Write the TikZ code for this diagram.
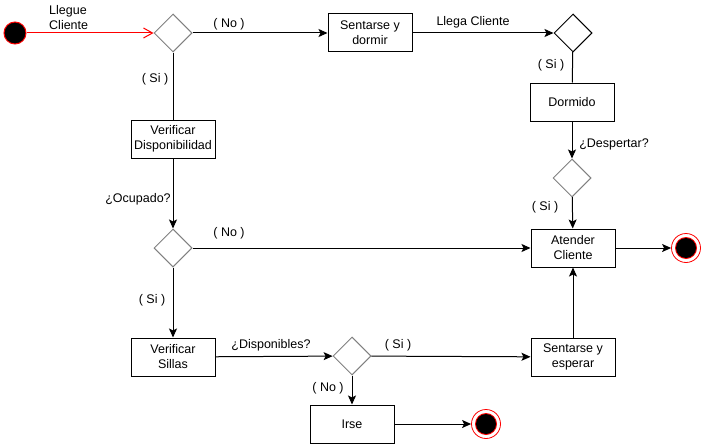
\documentclass[tikz,border=0pt]{standalone}
\usepackage{fontspec}
\setmainfont{Liberation Sans}
\usetikzlibrary{shapes.geometric,arrows.meta}
\begin{document}
\begin{tikzpicture}[x=1pt,y=-1pt,
  font=\fontsize{12.5}{15}\selectfont,
  box/.style={draw, line width=1pt, minimum width=84pt, minimum height=38pt,
    inner sep=0pt, align=center},
  dec/.style={draw=gray, diamond, aspect=1, minimum size=38pt, inner sep=0pt,
    line width=1pt},
  flow/.style={line width=1pt, -{Stealth[length=9pt,width=8pt,inset=2pt]}},
  link/.style={line width=1pt},
  lbl/.style={inner sep=0pt, align=left},
  startst/.style={circle, fill=black, draw=red, line width=1pt,
    minimum size=22pt, inner sep=0pt},
  endst/.style={circle, draw=red, line width=0.8pt, minimum size=29pt,
    inner sep=0pt, path picture={\fill[red] (path picture bounding box.center) circle (11pt);
      \fill[black] (path picture bounding box.center) circle (10pt);}}]
\useasboundingbox (0,0) rectangle (701,444);

% states
\node[startst] (ini) at (15,33) {};
\node[endst] (fin1) at (686,248) {};
\node[endst] (fin2) at (486,424) {};

% decisions
\node[dec] (d1) at (173,33) {};
\node[dec] (d2) at (173,248) {};
\node[dec] (d3) at (352,356) {};
\node[dec, draw=black] (d4) at (573,33) {};
\node[dec] (d5) at (572,178) {};

% activities
\node[box] (dormir) at (370,33) {Sentarse y\\dormir};
\node[box] (dormido) at (572,102) {Dormido};
\node[box] (verdisp) at (173,139) {Verificar\\Disponibilidad};
\node[box] (atender) at (573,248) {Atender\\Cliente};
\node[box] (versillas) at (173,357) {Verificar\\Sillas};
\node[box] (esperar) at (573,357) {Sentarse y\\esperar};
\node[box] (irse) at (352,424) {Irse};

% connectors
\draw[line width=1pt, red, -{Straight Barb[length=9pt,width=10pt]}] (ini) -- (d1);
\draw[flow] (d1) -- (dormir);
\draw[link] (d1) -- (verdisp);
\draw[flow] (dormir) -- (d4);
\draw[link] (d4) -- (dormido);
\draw[flow] (dormido) -- (d5);
\draw[flow] (d5) -- (atender);
\draw[flow] (verdisp) -- (d2);
\draw[flow] (d2) -- (atender);
\draw[flow] (d2) -- (versillas);
\draw[flow] (versillas) -- (d3);
\draw[flow] (d3) -- (esperar);
\draw[flow] (d3) -- (irse);
\draw[flow] (esperar) -- (atender);
\draw[flow] (atender) -- (fin1);
\draw[flow] (irse) -- (fin2);

% labels
\node[lbl, anchor=west] (lLlegue) at (49,17.5) {Llegue\\Cliente};
\node[lbl] (lNo1) at (229,24) {( No )};
\node[lbl] (lSi1) at (155,79) {( Si )};
\node[lbl] (lLlega) at (473,22) {Llega Cliente};
\node[lbl] (lSi2) at (551,65) {( Si )};
\node[lbl] (lDesp) at (614,144) {¿Despertar?};
\node[lbl] (lSi3) at (545,207) {( Si )};
\node[lbl] (lOcup) at (138,199) {¿Ocupado?};
\node[lbl] (lNo2) at (229,233) {( No )};
\node[lbl] (lSi4) at (152,300) {( Si )};
\node[lbl] (lDisp) at (271,345) {¿Disponibles?};
\node[lbl] (lSi5) at (398,345) {( Si )};
\node[lbl] (lNo3) at (328,388) {( No )};
\end{tikzpicture}
\end{document}
